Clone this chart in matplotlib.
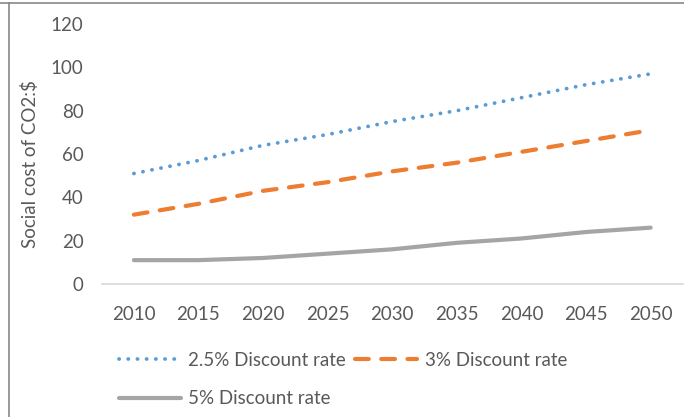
import matplotlib.pyplot as plt
from matplotlib.lines import Line2D

years = ["2010", "2015", "2020", "2025", "2030", "2035", "2040", "2045", "2050"]
rate_25 = [51, 57, 64, 69, 75, 80, 86, 92, 97]
rate_3 = [32, 37, 43, 47, 52, 56, 61, 66, 71]
rate_5 = [11, 11, 12, 14, 16, 19, 21, 24, 26]

plt.rcParams['font.family'] = ['Lato', 'DejaVu Sans']

fig = plt.figure(figsize=(6.84, 4.17), dpi=100)
ax = fig.add_axes([0.1485, 0.319, 0.85, 0.6234])

x = range(len(years))
blue, = ax.plot(x, rate_25, color='#5B9BD5', lw=2.7, linestyle=(0, (0.05, 2.4)),
                dash_capstyle='round', label='2.5% Discount rate')
orange, = ax.plot(x, rate_3, color='#ED7D31', lw=3, linestyle=(0, (3.3, 3.0)),
                  dash_capstyle='round', label='3% Discount rate')
gray, = ax.plot(x, rate_5, color='#A5A5A5', lw=3, solid_capstyle='round',
                label='5% Discount rate')

ax.set_xlim(-0.5, len(years) - 0.5)
ax.set_ylim(0, 120)
ax.set_yticks(range(0, 121, 20))
ax.set_xticks(list(x))
ax.set_xticklabels(years)
ax.tick_params(length=0, labelsize=13.5, colors='#595959')
ax.tick_params(axis='x', pad=16)
ax.tick_params(axis='y', pad=13)
for s in ['top', 'right', 'left']:
    ax.spines[s].set_visible(False)
ax.spines['bottom'].set_color('#d9d9d9')
ax.spines['bottom'].set_linewidth(1.2)

ax.set_ylabel('Social cost of CO2:$', fontsize=13.5, color='#595959')
ax.yaxis.set_label_coords(-0.108, 0.46)

fig.legend(handles=[blue, gray, orange], ncol=2, loc='upper left',
           bbox_to_anchor=(0.149, 0.197), frameon=False, fontsize=13.5,
           labelcolor='#595959', handlelength=3.3, handletextpad=0.4,
           columnspacing=0.5, labelspacing=1.15)

# outer frame (top and left edges only visible)
fig.add_artist(Line2D([0, 1], [0.993, 0.993], transform=fig.transFigure,
                      color='#888888', lw=1.2))
fig.add_artist(Line2D([0.0135, 0.0135], [0, 0.993], transform=fig.transFigure,
                      color='#888888', lw=1.2))

fig.savefig('out.png', dpi=100)
